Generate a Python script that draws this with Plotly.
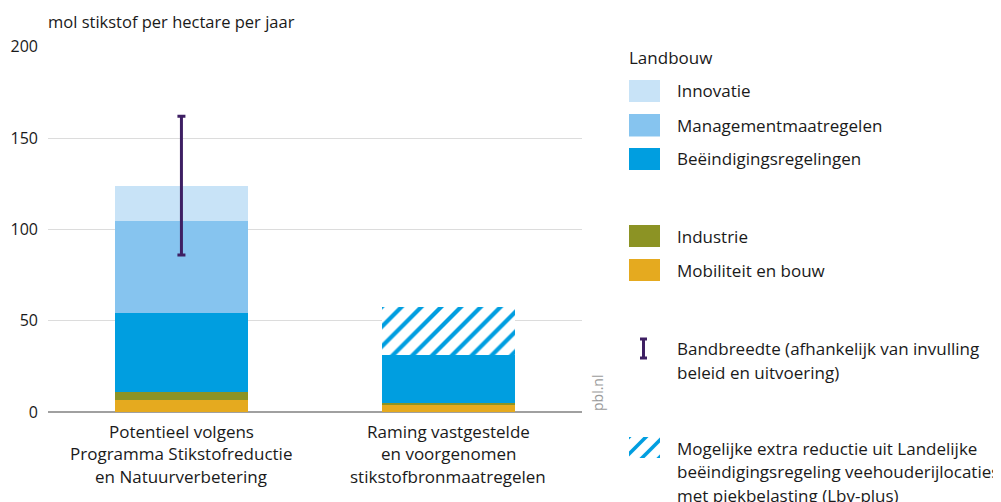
import plotly.graph_objects as go

# ---- data ----
categories = ["Potentieel volgens<br>Programma Stikstofreductie<br>en Natuurverbetering",
              "Raming vastgestelde<br>en voorgenomen<br>stikstofbronmaatregelen"]
mobiliteit = [6.6, 4.0]
industrie = [4.4, 1.1]
beeindiging = [43.0, 26.0]
management = [50.5, 0.0]
innovatie = [19.4, 0.0]
lbv_plus = [0.0, 26.2]
band_low = [86.0]
band_high = [162.0]
y_ticks = [0, 50, 100, 150, 200]

FONT = "Open Sans"
FS = 17
W, H = 1001, 502
OFF = 8  # page body margin
TXT = "#1a1a1a"

C_INNO = "#C8E3F7"
C_MAN = "#86C4EF"
C_BEE = "#009EE0"
C_IND = "#8C9324"
C_MOB = "#E5AA1F"
C_BAND = "#3E1F63"

fig = go.Figure()
for name, vals, col in [("Mobiliteit en bouw", mobiliteit, C_MOB),
                        ("Industrie", industrie, C_IND),
                        ("Beëindigingsregelingen", beeindiging, C_BEE),
                        ("Managementmaatregelen", management, C_MAN),
                        ("Innovatie", innovatie, C_INNO)]:
    fig.add_trace(go.Bar(x=categories, y=vals, name=name, width=0.5,
                         marker=dict(color=col, line=dict(width=0)),
                         showlegend=False, hoverinfo="skip"))

fig.add_trace(go.Bar(x=categories, y=lbv_plus, name="Lbv-plus", width=0.5,
                     marker=dict(color="white", line=dict(width=0),
                                 pattern=dict(shape="/", fgcolor=C_BEE, bgcolor="white",
                                              fgopacity=1, size=14, solidity=0.3)),
                     showlegend=False, hoverinfo="skip"))

mid = [(lo + hi) / 2 for lo, hi in zip(band_low, band_high)]
half = [(hi - lo) / 2 for lo, hi in zip(band_low, band_high)]
fig.add_trace(go.Scatter(x=categories[:1], y=mid, mode="markers",
                         marker=dict(size=1, opacity=0),
                         error_y=dict(type="data", array=half, visible=True,
                                      color=C_BAND, thickness=3, width=4),
                         showlegend=False, hoverinfo="skip"))

# hatch legend swatch on its own small axes
fig.add_trace(go.Bar(x=[0], y=[1], width=1, xaxis="x2", yaxis="y2",
                     marker=dict(color="white", line=dict(width=0),
                                 pattern=dict(shape="/", fgcolor=C_BEE, bgcolor="white",
                                              fgopacity=1, size=12, solidity=0.3)),
                     showlegend=False, hoverinfo="skip"))


def px(x):
    return (x - OFF) / W


def py(y):
    return (H - (y - OFF)) / H


fig.update_layout(
    width=W, height=H,
    margin=dict(l=0, r=0, t=0, b=0),
    paper_bgcolor="white", plot_bgcolor="white",
    barmode="stack",
    font=dict(family=FONT, size=FS, color=TXT),
    xaxis=dict(domain=[px(48), px(581.7)], range=[-0.5, 1.5], type="category",
               showgrid=False, showline=False, zeroline=False, ticks="",
               showticklabels=False, automargin=False),
    yaxis=dict(domain=[py(412.1), py(46.7)], range=[0, 200], tickvals=y_ticks,
               showgrid=True, gridcolor="#DCDCDC", gridwidth=1,
               zeroline=True, zerolinecolor="#A0A0A0", zerolinewidth=1.5,
               showline=False, ticks="", ticklabelstandoff=9,
               tickfont=dict(family=FONT, size=16, color=TXT), automargin=False),
    xaxis2=dict(domain=[px(629), px(660)], range=[-0.5, 0.5], visible=False,
                anchor="y2", fixedrange=True),
    yaxis2=dict(domain=[py(458), py(437)], range=[0, 1], visible=False,
                anchor="x2", fixedrange=True),
)

shapes = []
ann = []


def text_at(x, y, s, anchor="left", size=FS, color=TXT, **kw):
    ann.append(dict(x=px(x), y=py(y), xref="paper", yref="paper", xanchor=anchor,
                    yanchor="middle", text=s, showarrow=False,
                    xshift=-2 if anchor == "left" else 0,
                    font=dict(family=FONT, size=size, color=color), **kw))


# category labels, one line each
for cat in categories:
    for i, line in enumerate(cat.split("<br>")):
        ann.append(dict(x=cat, y=py(431 + 22.5 * i), xref="x", yref="paper",
                        xanchor="center", yanchor="middle", text=line, showarrow=False,
                        font=dict(family=FONT, size=FS, color=TXT)))

# y-axis title
text_at(48, 22, "mol stikstof per hectare per jaar", size=16.5)
# pbl.nl
text_at(597, 393, "pbl.nl", anchor="center", size=14, color="#9A9A9A", textangle=-90)

# legend
text_at(629, 57, "Landbouw")
legend_items = [("Innovatie", C_INNO, 80, 102),
                ("Managementmaatregelen", C_MAN, 114, 136.5),
                ("Beëindigingsregelingen", C_BEE, 148, 170),
                ("Industrie", C_IND, 225, 247),
                ("Mobiliteit en bouw", C_MOB, 259, 281)]
for label, col, y0, y1 in legend_items:
    shapes.append(dict(type="rect", xref="paper", yref="paper",
                       x0=px(629), x1=px(660), y0=py(y1), y1=py(y0),
                       fillcolor=col, line=dict(width=0)))
    text_at(677, (y0 + y1) / 2, label)

# band legend symbol
shapes.append(dict(type="line", xref="paper", yref="paper", x0=px(643.5), x1=px(643.5),
                   y0=py(338), y1=py(359), line=dict(color=C_BAND, width=3)))
for yy in (339, 358):
    shapes.append(dict(type="line", xref="paper", yref="paper", x0=px(640), x1=px(647),
                       y0=py(yy), y1=py(yy), line=dict(color=C_BAND, width=3)))
for i, line in enumerate(["Bandbreedte (afhankelijk van invulling",
                          "beleid en uitvoering)"]):
    text_at(677, 348 + 24 * i, line)
for i, line in enumerate(["Mogelijke extra reductie uit Landelijke",
                          "beëindigingsregeling veehouderijlocaties",
                          "met piekbelasting (Lbv-plus)"]):
    text_at(677, 448 + 23.5 * i, line)

fig.update_layout(shapes=shapes, annotations=ann)
fig.write_html("out.html")
